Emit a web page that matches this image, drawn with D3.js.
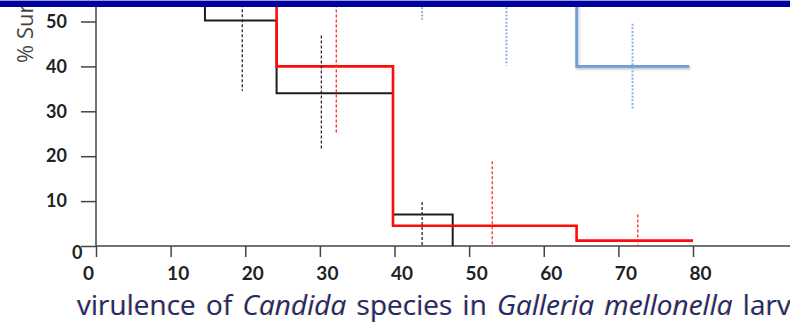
<!doctype html>
<html lang="en">
<head>
<meta charset="utf-8">
<title>virulence of Candida species in Galleria mellonella larvae</title>
<script src="https://cdn.jsdelivr.net/npm/d3@7"></script>
<style>
  html, body { margin: 0; padding: 0; background: #fff; }
  svg { display: block; }
  .tick text { font-family: Lato, "Open Sans", sans-serif; font-weight: 700; fill: #222; }
  .xtitle { font-family: "Open Sans", sans-serif; font-size: 28px; fill: #1c2b6b;
            text-shadow: -0.7px 0 0 rgba(235,140,50,0.55); }
</style>
</head>
<body>
<svg id="chart" width="790" height="325"></svg>
<script>
// Kaplan-Meier style step curves (time in hours, % survival); the picture is cropped above ~52%
const blackTimes = [0, 14.6, 24.2, 39.8, 47.8];
const blackSurv  = [100, 50.2, 34, 7, 0];
const redTimes   = [0, 24.2, 39.8, 64.4, 80];
const redSurv    = [100, 40, 4.5, 1.2, 1.2];
const blueTimes  = [0, 64.4, 79.5];
const blueSurv   = [100, 40, 40];

// error bars (dashed verticals)
const errSeries = ["black", "black", "black", "red", "red", "red", "blue", "blue", "blue"];
const errTimes  = [19.6, 30.2, 43.7, 32.2, 53.1, 72.6, 43.7, 55.0, 71.9];
const errLow    = [34.5, 21.3, 0, 25.2, 0, 0, 50.4, 40.2, 30.5];
const errHigh   = [65, 46.9, 9.8, 56, 18.9, 7, 70, 70, 49.5];

const xTicks = [0, 10, 20, 30, 40, 50, 60, 70, 80];
const yTicks = [0, 10, 20, 30, 40, 50];

const W = 790, H = 325;
const svg = d3.select("#chart");

const x = d3.scaleLinear().domain([0, 80]).range([96, 693]);
const y = d3.scaleLinear().domain([0, 50]).range([246, 21.5]);

const styles = {
  black: { stroke: "#1e1e1e", width: 2, dashStroke: "#2a2a2a", dash: "3,2", dashWidth: 1.3 },
  red:   { stroke: "#ff0a0a", width: 2.6, dashStroke: "#ff2a2a", dash: "3,2", dashWidth: 1.3 },
  blue:  { stroke: "#6d9eda", width: 2.6, dashStroke: "#8db2e4", dash: "2,1.6", dashWidth: 2 }
};

const defs = svg.append("defs");
defs.append("clipPath").attr("id", "plotclip")
  .append("rect").attr("x", 0).attr("y", 7).attr("width", W).attr("height", H - 7);
const shadow = defs.append("filter").attr("id", "shadow")
  .attr("x", "-20%").attr("y", "-20%").attr("width", "140%").attr("height", "140%");
shadow.append("feDropShadow").attr("dx", 1).attr("dy", 1.5).attr("stdDeviation", 1)
  .attr("flood-color", "#666").attr("flood-opacity", 0.45);

// y axis title, partly hidden under the top bar
svg.append("text")
  .attr("transform", "translate(33,63) rotate(-90)")
  .attr("font-family", "'Open Sans', sans-serif")
  .attr("font-size", 22)
  .attr("fill", "#444")
  .text("% Survival");

// axes
const xAxis = svg.append("g")
  .attr("transform", `translate(0,${y(0)})`)
  .call(d3.axisBottom(x).tickValues(xTicks).tickSize(11).tickSizeOuter(0).tickPadding(10));
xAxis.select(".domain").remove();
xAxis.selectAll(".tick line").attr("stroke", "#444").attr("stroke-width", 1.5);
xAxis.selectAll(".tick text").attr("font-size", 19)
  .attr("dx", d => d === 0 ? -8 : 7);

const yAxis = svg.append("g")
  .attr("transform", `translate(${x(0)},0)`)
  .call(d3.axisLeft(y).tickValues(yTicks).tickSize(15).tickSizeOuter(0).tickPadding(14));
yAxis.select(".domain").remove();
yAxis.selectAll(".tick line").attr("stroke", "#444").attr("stroke-width", 1.5);
yAxis.selectAll(".tick text").attr("font-size", 18)
  .attr("dx", d => d === 0 ? 15.5 : 0)
  .attr("dy", d => d === 0 ? "0.7em" : "0.32em");

svg.append("line")
  .attr("x1", x(0)).attr("x2", W).attr("y1", y(0)).attr("y2", y(0))
  .attr("stroke", "#444").attr("stroke-width", 1.5);
svg.append("line")
  .attr("x1", x(0)).attr("x2", x(0)).attr("y1", 7).attr("y2", y(0))
  .attr("stroke", "#444").attr("stroke-width", 1.5);

// step curves
const plot = svg.append("g").attr("clip-path", "url(#plotclip)");
const step = d3.line().x(d => x(d[0])).y(d => y(d[1])).curve(d3.curveStepAfter);

const series = [
  { key: "black", pts: d3.zip(blackTimes, blackSurv) },
  { key: "red",   pts: d3.zip(redTimes, redSurv) },
  { key: "blue",  pts: d3.zip(blueTimes, blueSurv) }
];

plot.selectAll("path.km")
  .data(series)
  .join("path")
  .attr("class", "km")
  .attr("d", d => step(d.pts))
  .attr("fill", "none")
  .attr("stroke", d => styles[d.key].stroke)
  .attr("stroke-width", d => styles[d.key].width)
  .attr("stroke-linejoin", "miter")
  .attr("filter", d => d.key === "blue" ? "url(#shadow)" : null);

plot.selectAll("line.err")
  .data(d3.range(errTimes.length))
  .join("line")
  .attr("class", "err")
  .attr("x1", i => x(errTimes[i])).attr("x2", i => x(errTimes[i]))
  .attr("y1", i => y(errHigh[i])).attr("y2", i => y(errLow[i]))
  .attr("stroke", i => styles[errSeries[i]].dashStroke)
  .attr("stroke-width", i => styles[errSeries[i]].dashWidth)
  .attr("stroke-dasharray", i => styles[errSeries[i]].dash);

// top banner
svg.append("rect").attr("x", 0).attr("y", 0).attr("width", W).attr("height", 7).attr("fill", "#00009c");
svg.append("rect").attr("x", 0).attr("y", 0).attr("width", W).attr("height", 1).attr("fill", "#9a9ad6");

// x axis title (runs off the right edge in the original)
const title = svg.append("text")
  .attr("class", "xtitle")
  .attr("x", 77).attr("y", 315)
  .attr("word-spacing", 3);
title.append("tspan").text("virulence of ");
title.append("tspan").attr("font-style", "italic").text("Candida");
title.append("tspan").text(" species in ");
title.append("tspan").attr("font-style", "italic").text("Galleria mellonella");
title.append("tspan").text(" larvae");
</script>
</body>
</html>
